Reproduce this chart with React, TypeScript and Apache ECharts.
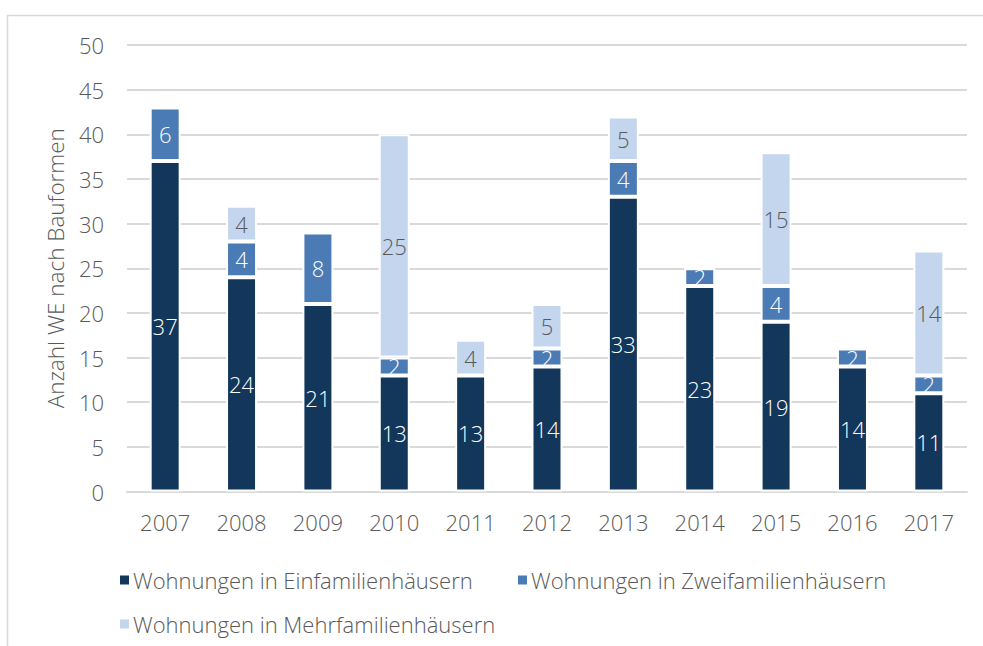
import React, { useEffect, useRef } from "react";
import * as echarts from "echarts";

const years = ["2007", "2008", "2009", "2010", "2011", "2012", "2013", "2014", "2015", "2016", "2017"];
const einfamilien = [37, 24, 21, 13, 13, 14, 33, 23, 19, 14, 11];
const zweifamilien = [6, 4, 8, 2, 0, 2, 4, 2, 4, 2, 2];
const mehrfamilien = [0, 4, 0, 25, 4, 5, 5, 0, 15, 0, 14];
const seriesNames = [
  "Wohnungen in Einfamilienhäusern",
  "Wohnungen in Zweifamilienhäusern",
  "Wohnungen in Mehrfamilienhäusern",
];
const yAxisName = "Anzahl WE nach Bauformen";

const FONT = "Open Sans";
const FW = 300;
const GRAY = "#595959";
const COLORS = ["#13365b", "#4b7bb5", "#c4d6ee"];

export default function App() {
  const ref = useRef<HTMLDivElement>(null);
  useEffect(() => {
    document.body.style.margin = "0";
    const chart = echarts.init(ref.current!, null, { renderer: "svg" });
    const mk = (name: string, data: number[], i: number) => ({
      name,
      type: "bar",
      stack: "total",
      data,
      barWidth: 31,
      itemStyle: { color: COLORS[i], borderColor: "#ffffff", borderWidth: 2 },
      label: {
        show: true,
        position: "inside",
        color: i === 2 ? GRAY : "#ffffff",
        fontFamily: FONT,
        fontWeight: FW,
        fontSize: 22,
        formatter: (p: any) => (p.value === 0 ? "" : String(p.value)),
      },
    });
    const legendBase = {
      orient: "horizontal",
      itemWidth: 11,
      itemHeight: 11,
      itemGap: 0,
      icon: "rect",
      textStyle: { color: GRAY, fontFamily: FONT, fontWeight: FW, fontSize: 22, padding: [0, 0, 0, -2] },
    };
    chart.setOption({
      animation: false,
      backgroundColor: "#ffffff",
      grid: { left: 127, right: 16, top: 45, bottom: 154.5, containLabel: false },
      xAxis: {
        type: "category",
        data: years,
        axisLine: { show: true, lineStyle: { color: "#d9d9d9", width: 2 } },
        axisTick: { show: false },
        axisLabel: { color: GRAY, fontFamily: FONT, fontWeight: FW, fontSize: 22, margin: 19 },
      },
      yAxis: {
        type: "value",
        min: 0,
        max: 50,
        interval: 5,
        name: yAxisName,
        nameLocation: "middle",
        nameGap: 60,
        nameTextStyle: { color: GRAY, fontFamily: FONT, fontWeight: FW, fontSize: 22.5 },
        axisLine: { show: false },
        axisTick: { show: false },
        axisLabel: { color: GRAY, fontFamily: FONT, fontWeight: FW, fontSize: 22, margin: 23 },
        splitLine: { lineStyle: { color: "#d9d9d9", width: 2 } },
      },
      legend: [
        { ...legendBase, left: 113, top: 564, data: [seriesNames[0]] },
        { ...legendBase, left: 511, top: 564, data: [seriesNames[1]] },
        { ...legendBase, left: 113, top: 608, data: [seriesNames[2]] },
      ],
      graphic: [
        {
          type: "rect",
          shape: { x: 7.5, y: 15.5, width: 1100, height: 800 },
          style: { fill: "none", stroke: "#d9d9d9", lineWidth: 1.5 },
          silent: true,
        },
      ],
      series: [
        mk(seriesNames[0], einfamilien, 0),
        mk(seriesNames[1], zweifamilien, 1),
        mk(seriesNames[2], mehrfamilien, 2),
      ],
    });
    return () => chart.dispose();
  }, []);
  return <div ref={ref} style={{ width: 983, height: 646 }} />;
}
